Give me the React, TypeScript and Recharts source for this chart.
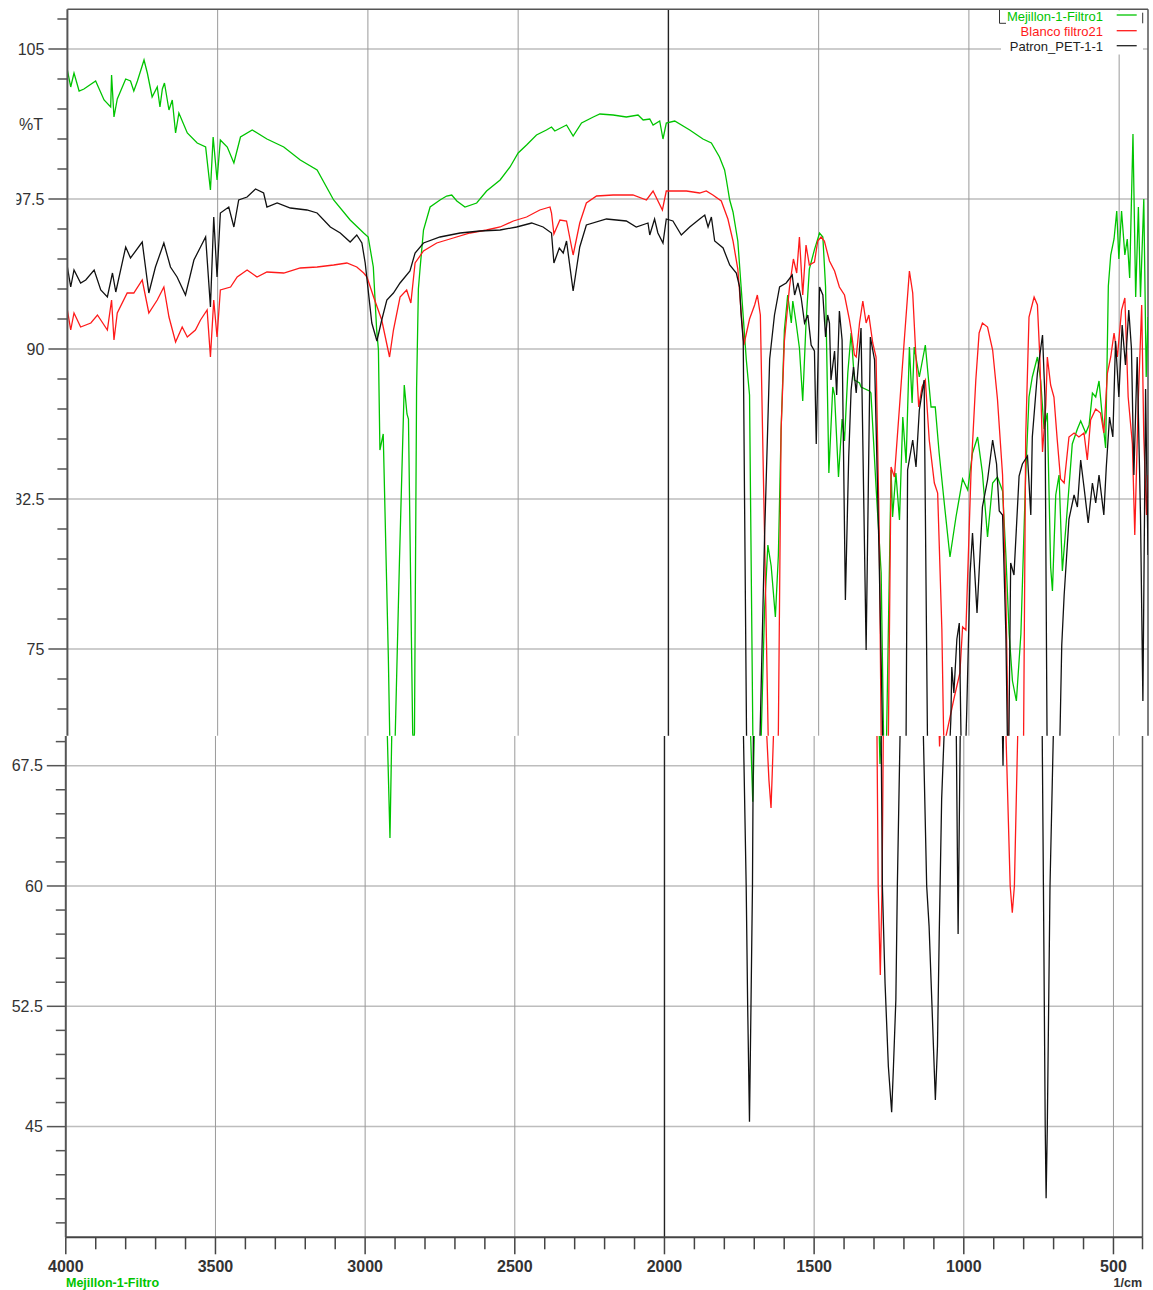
import React from "react";
import { LineChart, Line, XAxis, YAxis, ReferenceLine } from "recharts";

// [wavenumber 1/cm, %T]
const mejillon: [number, number][] = [
  [4000, 103.95], [3989, 103.1], [3978, 103.8], [3961, 102.9], [3945, 103.0], [3906, 103.4], [3878, 102.45],
  [3856, 102.1], [3853, 103.7], [3845, 101.6], [3834, 102.5], [3806, 103.5], [3790, 103.4], [3779, 102.9],
  [3767, 103.4], [3745, 104.45], [3734, 103.8], [3718, 102.6], [3701, 103.1], [3692, 102.1], [3684, 103.0],
  [3677, 103.3], [3662, 101.95], [3651, 102.45], [3640, 100.8], [3629, 101.8], [3601, 100.8], [3568, 100.3],
  [3540, 100.1], [3524, 97.95], [3515, 100.6], [3502, 98.45], [3491, 100.45], [3468, 100.1], [3446, 99.3],
  [3424, 100.6], [3385, 100.95], [3336, 100.5], [3280, 100.1], [3225, 99.45], [3169, 98.95], [3114, 97.45],
  [3059, 96.45], [3014, 95.8], [2999, 95.6], [2982, 94.1], [2971, 91.0], [2965, 89.95], [2960, 84.95],
  [2949, 85.75], [2932, 74.6], [2926, 69.5], [2917, 63.0], [2911, 69.5], [2895, 79.4], [2879, 88.2],
  [2870, 86.75], [2865, 86.5], [2851, 70.8], [2848, 70.3], [2845, 70.8], [2838, 88.0], [2832, 93.0],
  [2826, 94.1], [2815, 95.95], [2793, 97.1], [2760, 97.45], [2738, 97.65], [2721, 97.7], [2704, 97.4],
  [2677, 97.1], [2638, 97.3], [2605, 97.9], [2560, 98.45], [2527, 99.1], [2500, 99.8], [2472, 100.2],
  [2439, 100.7], [2406, 100.95], [2389, 101.1], [2378, 100.9], [2339, 101.2], [2317, 100.65], [2289, 101.3],
  [2250, 101.6], [2228, 101.75], [2184, 101.7], [2140, 101.6], [2101, 101.7], [2084, 101.45], [2062, 101.5],
  [2051, 101.2], [2029, 101.4], [2018, 100.5], [2007, 101.3], [1979, 101.4], [1929, 100.95], [1885, 100.5],
  [1857, 100.3], [1830, 99.6], [1813, 98.95], [1807, 98.45], [1796, 97.45], [1785, 96.85], [1769, 95.4],
  [1758, 93.1], [1741, 89.5], [1730, 87.7], [1719, 70.7], [1712, 69.3], [1705, 65.25], [1700, 69.3],
  [1691, 70.7], [1680, 77.0], [1669, 80.2], [1658, 79.15], [1644, 76.6], [1634, 79.7], [1625, 85.95],
  [1614, 90.95], [1603, 92.7], [1591, 91.3], [1586, 92.4], [1575, 91.3], [1564, 90.05], [1553, 87.4],
  [1542, 91.3], [1531, 93.99], [1514, 94.97], [1497, 95.8], [1486, 95.6], [1477, 93.1], [1466, 83.8],
  [1453, 88.1], [1447, 87.7], [1434, 83.6], [1422, 86.5], [1414, 85.4], [1403, 88.8], [1392, 90.8],
  [1381, 88.45], [1364, 88.3], [1359, 88.1], [1331, 87.9], [1326, 87.8], [1309, 83.1], [1292, 78.8],
  [1284, 70.6], [1280, 67.6], [1274, 70.6], [1259, 83.95], [1254, 81.6], [1243, 83.8], [1231, 81.45],
  [1220, 86.6], [1209, 84.3], [1198, 90.1], [1189, 87.3], [1182, 90.1], [1165, 88.6], [1145, 90.2],
  [1126, 87.1], [1112, 87.1], [1099, 84.8], [1082, 82.3], [1063, 79.6], [1043, 81.6], [1021, 83.5],
  [1004, 82.95], [988, 84.8], [971, 85.6], [955, 83.8], [938, 80.6], [921, 83.3], [905, 83.6], [888, 82.9],
  [877, 79.7], [866, 75.75], [855, 73.4], [842, 72.4], [827, 75.75], [811, 83.7], [800, 87.6], [789, 88.6],
  [772, 89.6], [761, 88.4], [750, 86.0], [739, 86.8], [728, 79.1], [722, 77.9], [711, 82.7], [700, 83.7],
  [689, 78.9], [672, 82.1], [656, 85.25], [639, 86.0], [628, 86.4], [611, 85.8], [600, 86.2], [589, 87.8],
  [578, 87.6], [567, 88.4], [556, 86.6], [545, 85.05], [536, 93.15], [528, 94.7], [517, 95.5], [508, 96.9],
  [501, 94.5], [492, 96.9], [481, 94.7], [473, 95.5], [465, 93.55], [454, 100.75], [445, 92.6], [436, 97.1],
  [429, 92.6], [418, 97.5], [410, 88.6], [404, 91.6],
];

const blanco: [number, number][] = [
  [4000, 91.95], [3989, 90.95], [3978, 91.8], [3956, 91.1], [3922, 91.3], [3900, 91.7], [3867, 90.95],
  [3853, 92.45], [3845, 90.45], [3834, 91.8], [3801, 92.8], [3779, 92.8], [3751, 93.45], [3729, 91.8],
  [3701, 92.45], [3679, 93.1], [3662, 91.6], [3640, 90.35], [3618, 91.1], [3601, 90.6], [3574, 90.95],
  [3557, 91.45], [3535, 91.95], [3524, 89.6], [3513, 92.45], [3502, 90.6], [3491, 92.95], [3457, 93.1],
  [3435, 93.6], [3402, 93.95], [3369, 93.6], [3336, 93.85], [3280, 93.8], [3225, 94.05], [3169, 94.1],
  [3114, 94.2], [3070, 94.3], [3037, 94.1], [3014, 93.8], [3003, 93.6], [2981, 92.6], [2954, 91.45],
  [2928, 89.6], [2915, 90.95], [2893, 92.6], [2871, 92.95], [2857, 92.3], [2843, 94.3], [2815, 94.9],
  [2771, 95.3], [2716, 95.55], [2660, 95.8], [2605, 95.95], [2560, 96.1], [2516, 96.4], [2472, 96.6],
  [2428, 96.95], [2394, 97.1], [2389, 96.8], [2381, 95.75], [2361, 96.45], [2339, 96.4], [2317, 94.7],
  [2295, 96.3], [2273, 97.3], [2239, 97.65], [2184, 97.7], [2118, 97.7], [2073, 97.45], [2051, 97.9],
  [2020, 96.95], [2007, 97.9], [1940, 97.9], [1896, 97.8], [1874, 97.9], [1852, 97.7], [1824, 97.4],
  [1802, 96.5], [1785, 95.4], [1769, 93.99], [1758, 91.85], [1749, 90.2], [1730, 91.5], [1713, 92.2],
  [1704, 92.7], [1694, 91.7], [1680, 80.6], [1668, 70.7], [1658, 69.3], [1651, 66.6], [1644, 64.86],
  [1640, 67.0], [1636, 69.3], [1634, 71.0], [1625, 85.95], [1614, 90.4], [1597, 93.1], [1584, 94.5],
  [1573, 93.8], [1564, 95.6], [1553, 92.7], [1542, 95.2], [1531, 94.2], [1514, 94.35], [1503, 95.4],
  [1492, 95.6], [1481, 95.4], [1464, 94.4], [1447, 93.9], [1431, 93.1], [1414, 92.7], [1398, 91.5],
  [1392, 90.95], [1381, 89.7], [1375, 89.6], [1364, 91.3], [1353, 92.4], [1342, 91.3], [1333, 91.7],
  [1320, 90.3], [1309, 89.6], [1298, 80.45], [1292, 70.6], [1290, 69.3], [1286, 60.0], [1279, 54.45],
  [1273, 60.0], [1269, 69.3], [1268, 70.6], [1259, 84.1], [1248, 83.6], [1231, 87.1], [1215, 90.45],
  [1198, 93.9], [1187, 92.8], [1178, 90.1], [1167, 87.1], [1156, 88.1], [1145, 88.45], [1132, 85.45],
  [1115, 83.3], [1104, 82.8], [1090, 76.0], [1085, 71.5], [1081, 68.7], [1076, 70.66], [1050, 72.5],
  [1030, 73.8], [1021, 76.1], [1010, 75.95], [993, 83.8], [977, 88.45], [966, 90.8], [955, 91.3],
  [938, 91.1], [921, 89.95], [905, 87.5], [888, 83.7], [877, 77.7], [869, 70.66], [859, 69.35], [845, 60.0],
  [838, 58.33], [831, 60.0], [820, 69.35], [818, 70.66], [811, 85.6], [800, 91.6], [783, 92.6], [772, 92.2],
  [764, 89.6], [755, 84.85], [744, 87.2], [739, 89.6], [728, 88.2], [717, 87.6], [706, 85.45], [695, 83.5],
  [683, 83.3], [667, 85.6], [650, 85.8], [634, 85.6], [617, 85.8], [606, 84.45], [595, 86.45], [578, 87.0],
  [562, 86.8], [551, 85.8], [539, 88.8], [528, 89.6], [517, 90.8], [506, 89.6], [492, 91.95], [481, 92.55],
  [470, 87.6], [456, 85.25], [448, 80.7], [436, 87.6], [425, 92.2], [418, 85.6], [409, 81.7], [404, 83.7],
];

const patron: [number, number][] = [
  [4000, 94.1], [3989, 93.1], [3978, 93.95], [3956, 93.3], [3939, 93.45], [3911, 93.95], [3889, 92.95],
  [3867, 92.6], [3850, 93.8], [3839, 92.85], [3806, 95.1], [3790, 94.55], [3751, 95.35], [3729, 92.8],
  [3707, 94.1], [3679, 95.3], [3657, 94.1], [3635, 93.6], [3607, 92.7], [3579, 94.45], [3557, 95.1],
  [3540, 95.6], [3524, 92.1], [3513, 96.6], [3502, 93.6], [3491, 96.8], [3463, 97.1], [3446, 96.1],
  [3430, 97.45], [3402, 97.6], [3374, 98.0], [3347, 97.8], [3336, 97.1], [3302, 97.3], [3258, 97.05],
  [3203, 96.95], [3169, 96.8], [3125, 96.1], [3092, 95.8], [3059, 95.35], [3037, 95.7], [3020, 95.3],
  [3009, 94.3], [2987, 91.3], [2970, 90.4], [2954, 91.45], [2937, 92.45], [2915, 92.8], [2893, 93.3],
  [2860, 93.9], [2843, 94.8], [2815, 95.3], [2760, 95.6], [2693, 95.8], [2627, 95.9], [2560, 95.95],
  [2505, 96.1], [2455, 96.3], [2417, 96.1], [2389, 95.8], [2381, 94.3], [2363, 95.05], [2350, 94.8],
  [2339, 95.4], [2317, 92.9], [2295, 95.1], [2273, 96.2], [2206, 96.5], [2140, 96.4], [2107, 96.1],
  [2068, 96.3], [2062, 95.7], [2046, 96.5], [2035, 95.8], [2018, 95.3], [2007, 96.5], [1985, 96.4],
  [1957, 95.7], [1929, 96.1], [1896, 96.5], [1879, 96.7], [1868, 96.1], [1857, 96.6], [1846, 95.4],
  [1818, 95.05], [1796, 94.2], [1774, 93.8], [1763, 93.1], [1758, 91.7], [1751, 90.4], [1740, 70.7],
  [1736, 69.3], [1727, 60.0], [1722, 52.5], [1716, 45.3], [1711, 52.5], [1706, 60.0], [1703, 69.3],
  [1695, 70.7], [1680, 80.6], [1663, 89.5], [1647, 91.7], [1630, 93.1], [1608, 93.3], [1588, 93.7],
  [1580, 92.7], [1569, 93.3], [1558, 92.55], [1547, 91.3], [1536, 91.7], [1525, 90.2], [1514, 89.9],
  [1508, 85.25], [1497, 93.1], [1486, 92.7], [1477, 90.6], [1470, 91.7], [1464, 91.3], [1459, 88.45],
  [1447, 89.9], [1440, 87.7], [1431, 91.9], [1422, 90.45], [1411, 77.45], [1400, 84.6], [1392, 87.95],
  [1384, 89.1], [1375, 87.8], [1359, 91.05], [1342, 74.95], [1328, 90.6], [1314, 89.45], [1300, 80.45],
  [1287, 70.6], [1276, 69.35], [1272, 60.0], [1263, 53.9], [1252, 48.75], [1241, 45.9], [1235, 48.75],
  [1227, 52.9], [1222, 60.0], [1213, 69.35], [1209, 70.66], [1204, 83.95], [1187, 85.45], [1176, 84.1],
  [1165, 86.95], [1149, 88.45], [1138, 70.7], [1135, 69.35], [1124, 60.0], [1116, 57.5], [1107, 52.9],
  [1095, 46.66], [1088, 50.0], [1082, 57.05], [1074, 65.4], [1066, 69.35], [1060, 71.5], [1057, 74.1],
  [1050, 72.8], [1040, 75.5], [1032, 76.3], [1025, 69.35], [1019, 57.0], [1012, 69.35], [1007, 72.0],
  [996, 78.8], [988, 80.8], [973, 76.8], [955, 82.1], [938, 83.45], [921, 85.45], [908, 84.25], [899, 81.9],
  [888, 81.7], [877, 75.75], [869, 67.5], [861, 79.3], [850, 78.7], [833, 83.65], [822, 84.25], [805, 84.65],
  [794, 81.7], [789, 85.6], [772, 88.8], [755, 90.7], [747, 87.6], [740, 70.7], [738, 69.35], [734, 60.0],
  [728, 45.0], [725, 40.54], [721, 45.0], [712, 60.0], [701, 69.35], [697, 70.66], [691, 75.2], [683, 77.7],
  [667, 81.5], [650, 82.7], [639, 82.1], [628, 84.45], [617, 83.1], [603, 81.3], [589, 83.3], [578, 82.3],
  [567, 83.7], [551, 81.7], [543, 84.05], [532, 86.6], [521, 85.6], [512, 90.4], [501, 87.6], [490, 91.2],
  [479, 89.2], [468, 91.95], [459, 90.0], [451, 83.7], [440, 89.6], [429, 81.7], [421, 72.4], [412, 88.0],
  [404, 79.7],
];

const X_LABELS = [4000, 3500, 3000, 2500, 2000, 1500, 1000, 500];
const TOP_Y_LABELS = [105, 97.5, 90, 82.5, 75];
const BOTTOM_Y_LABELS = [67.5, 60, 52.5, 45];

const TOP_Y_DOMAIN: [number, number] = [70.665, 106.985];
const BOTTOM_Y_DOMAIN: [number, number] = [38.1, 69.35];
const TOP_X_DOMAIN: [number, number] = [404, 4000];
const BOTTOM_X_DOMAIN: [number, number] = [403, 4000];

const FONT = "'Liberation Sans', Arial, sans-serif";
const GREEN = "#00c400";
const RED = "#ff1a1a";
const BLACK = "#111111";

const toRows = (pts: [number, number][]) => pts.map(([wn, t]) => ({ wn, t }));
const greenRows = toRows(mejillon);
const redRows = toRows(blanco);
const blackRows = toRows(patron);

// minor tick marks every 1.5 %T / 100 cm-1
const minorTicks = (from: number, to: number, step: number) => {
  const out: number[] = [];
  for (let v = from; v >= to - 1e-9; v -= step) out.push(Math.round(v * 100) / 100);
  return out;
};
const topYTicks = minorTicks(106.5, 72, 1.5);
const bottomYTicks = minorTicks(69, 39, 1.5);
const xTicks = [...minorTicks(4000, 500, 100), 403];

const makeYTick = (labels: number[]) => (props: any) => {
  const { x, y, payload } = props;
  const major = labels.includes(payload.value);
  return (
    <g>
      <line x1={x} y1={y} x2={x - (major ? 19 : 10)} y2={y} stroke="#555" strokeWidth={1.5} />
      {major && (
        <text x={x - 23} y={y} dy="0.36em" textAnchor="end" fontSize={16} fill="#333" fontFamily={FONT}>
          {String(payload.value)}
        </text>
      )}
    </g>
  );
};

const XTick = (props: any) => {
  const { x, y, payload } = props;
  const major = X_LABELS.includes(payload.value);
  return (
    <g>
      <line x1={x} y1={y} x2={x} y2={y + (major ? 17 : 12)} stroke="#444" strokeWidth={1.5} />
      {major && (
        <text x={x} y={y + 35} textAnchor="middle" fontSize={16} fontWeight="bold" fill="#333" fontFamily={FONT}>
          {String(payload.value)}
        </text>
      )}
    </g>
  );
};

const grid = (yLabels: number[]) => [
  ...yLabels.map((v) => <ReferenceLine key={"h" + v} y={v} stroke="#bdbdbd" strokeWidth={1.5} />),
  ...X_LABELS.filter((v) => v !== 4000).map((v) => (
    <ReferenceLine key={"v" + v} x={v} stroke={v === 2000 ? "#222" : "#9a9a9a"} strokeWidth={v === 2000 ? 1.4 : 1} />
  )),
];

const series = () => [
  <Line key="g" data={greenRows} dataKey="t" type="linear" stroke={GREEN} strokeWidth={1.3} dot={false} isAnimationActive={false} />,
  <Line key="r" data={redRows} dataKey="t" type="linear" stroke={RED} strokeWidth={1.3} dot={false} isAnimationActive={false} />,
  <Line key="b" data={blackRows} dataKey="t" type="linear" stroke={BLACK} strokeWidth={1.3} dot={false} isAnimationActive={false} />,
];

export default function App() {
  return (
    <div style={{ position: "absolute", left: 0, top: 0, width: 1153, height: 1290, background: "#fff", fontFamily: FONT, overflow: "hidden" }}>
      {/* upper part, %T 70.7 - 107 */}
      <div style={{ position: "absolute", left: 0, top: 0, clipPath: "inset(0 0 0 16.5px)" }}>
        <LineChart width={1153} height={736} margin={{ top: 9.3, right: 5, bottom: 0.3, left: 0 }}>
          <XAxis type="number" dataKey="wn" domain={TOP_X_DOMAIN} reversed allowDataOverflow hide />
          <YAxis
            type="number"
            domain={TOP_Y_DOMAIN}
            allowDataOverflow
            width={67.4}
            ticks={topYTicks}
            interval={0}
            tickLine={false}
            tickSize={0}
            tickMargin={0}
            tick={makeYTick(TOP_Y_LABELS)}
            axisLine={{ stroke: "#555", strokeWidth: 2 }}
          />
          {grid(TOP_Y_LABELS)}
          <ReferenceLine y={TOP_Y_DOMAIN[1]} stroke="#555" strokeWidth={1.5} />
          <ReferenceLine x={TOP_X_DOMAIN[0]} stroke="#555" strokeWidth={1.5} />
          {series()}
        </LineChart>
        <div style={{ position: "absolute", left: 0, top: 116, width: 43, textAlign: "right", fontSize: 16, color: "#333" }}>%T</div>
      </div>

      {/* lower part, %T 38 - 69.4 */}
      <div style={{ position: "absolute", left: 0, top: 736 }}>
        <LineChart width={1153} height={554} margin={{ top: 0, right: 10.5, bottom: 12.7, left: 0 }}>
          <XAxis
            type="number"
            dataKey="wn"
            domain={BOTTOM_X_DOMAIN}
            reversed
            allowDataOverflow
            height={40}
            ticks={xTicks}
            interval={0}
            tickLine={false}
            tickSize={0}
            tickMargin={0}
            tick={XTick}
            axisLine={{ stroke: "#444", strokeWidth: 2 }}
          />
          <YAxis
            type="number"
            domain={BOTTOM_Y_DOMAIN}
            allowDataOverflow
            width={65.8}
            ticks={bottomYTicks}
            interval={0}
            tickLine={false}
            tickSize={0}
            tickMargin={0}
            tick={makeYTick(BOTTOM_Y_LABELS)}
            axisLine={{ stroke: "#555", strokeWidth: 2 }}
          />
          {grid(BOTTOM_Y_LABELS)}
          <ReferenceLine x={BOTTOM_X_DOMAIN[0]} stroke="#555" strokeWidth={1.5} />
          {series()}
        </LineChart>
      </div>

      <svg style={{ position: "absolute", left: 0, top: 0 }} width={1153} height={1290} pointerEvents="none">
        {/* legend */}
        <rect x={1001} y={10.5} width={142} height={44} fill="#fff" />
        <path d="M999.5 10 V23.3 H1006" fill="none" stroke="#333" strokeWidth={1} />
        <path d="M1142.7 12.7 V23.3" fill="none" stroke="#333" strokeWidth={1} />
        <text x={1103} y={21} textAnchor="end" fontSize={13} fill={GREEN} fontFamily={FONT}>Mejillon-1-Filtro1</text>
        <text x={1103} y={36.3} textAnchor="end" fontSize={13} fill={RED} fontFamily={FONT}>Blanco filtro21</text>
        <text x={1103} y={51.3} textAnchor="end" fontSize={13} fill="#222" fontFamily={FONT}>Patron_PET-1-1</text>
        <line x1={1116.7} y1={15} x2={1136.7} y2={15} stroke={GREEN} strokeWidth={1.3} />
        <line x1={1116.7} y1={30.7} x2={1136.7} y2={30.7} stroke={RED} strokeWidth={1.3} />
        <line x1={1116.7} y1={45.7} x2={1136.7} y2={45.7} stroke="#222" strokeWidth={1.3} />
        {/* bottom captions */}
        <text x={1142} y={1287.3} textAnchor="end" fontSize={12.5} fontWeight="bold" fill="#333" fontFamily={FONT}>1/cm</text>
        <text x={66} y={1287.3} fontSize={12.5} fontWeight="bold" fill={GREEN} fontFamily={FONT}>Mejillon-1-Filtro</text>
      </svg>
    </div>
  );
}
